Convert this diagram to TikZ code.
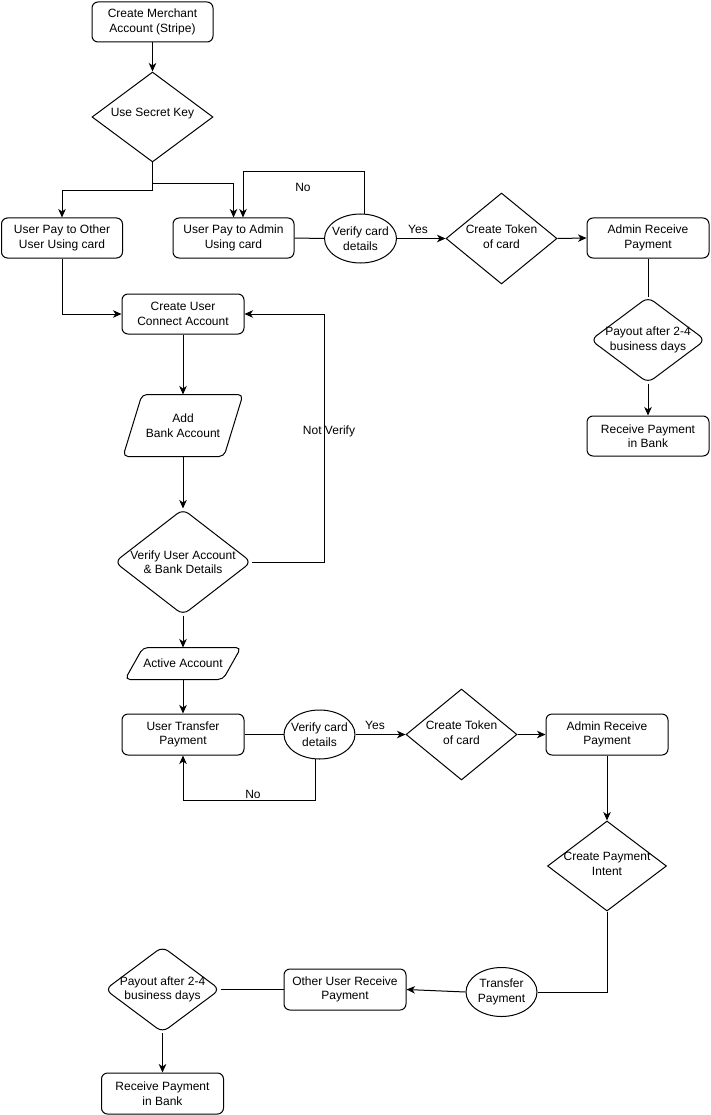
\documentclass[tikz,border=0pt]{standalone}
\usepackage{fontspec}
\setmainfont{Liberation Sans}
\usetikzlibrary{shapes.geometric, arrows.meta, calc}
\newcommand\dfont{\fontsize{12}{14.5}\selectfont}
\begin{document}
\begin{tikzpicture}[x=1pt, y=-1pt, line width=1pt,
  every node/.style={font=\dfont},
  box/.style={draw, rounded corners=6pt, minimum width=121pt, minimum height=40pt, inner sep=0pt, align=center},
  dia/.style={draw, diamond, inner sep=0pt},
  rdia/.style={draw, diamond, inner sep=0pt, rounded corners=7pt},
  ell/.style={draw, ellipse, inner sep=0pt},
  par/.style={inner sep=0pt, align=center},
  txt/.style={align=center, inner sep=0pt},
  lbl/.style={inner sep=0pt},
  arr/.style={-{Stealth[length=8.5pt,width=7.5pt,inset=2.5pt]}}
]
\useasboundingbox (0,0) rectangle (710,1115);

% ---- nodes ----
\node[box] (merch) at (152.5,22) {Create Merchant\\Account (Stripe)};
\node[dia, minimum width=121pt, minimum height=90pt, label={[txt,yshift=3pt]center:Use Secret Key}] (key) at (152.5,117) {};
\node[box] (other) at (62,238) {User Pay to Other\\User Using card};
\node[box] (admin) at (233.5,238) {User Pay to Admin\\Using card};
\node[ell, minimum width=72pt, minimum height=49pt, label={[txt]center:{Verify card\\details}}] (ver1) at (360.5,238.5) {};
\node[dia, minimum width=111pt, minimum height=91pt, label={[txt,yshift=2pt]center:{Create Token\\of card}}] (tok1) at (501.5,238.5) {};
\node[box, minimum width=122pt] (arec1) at (648,238) {Admin Receive\\Payment};
\node[rdia, minimum width=115pt, minimum height=86pt, label={[txt]center:{Payout after 2-4\\business days}}] (pay1) at (648,340) {};
\node[box, minimum width=122pt] (bank1) at (648,436) {Receive Payment\\in Bank};

\node[box, minimum width=122pt] (conn) at (183,314) {Create User\\Connect Account};
\node[par, minimum width=119pt, minimum height=61pt] (addb) at (183,425.5) {Add\\Bank Account};
\draw[rounded corners=5pt] ($(addb.north west)+(19,0)$) -- (addb.north east) -- ($(addb.south east)+(-19,0)$) -- (addb.south west) -- cycle;
\node[rdia, minimum width=137pt, minimum height=106pt, label={[txt]center:{Verify User Account\\\& Bank Details}}] (vua) at (183,562) {};
\node[par, minimum width=115pt, minimum height=31pt] (act) at (183,663.5) {Active Account};
\draw[rounded corners=5pt] ($(act.north west)+(18,0)$) -- (act.north east) -- ($(act.south east)+(-18,0)$) -- (act.south west) -- cycle;

\node[box, minimum width=122pt, minimum height=41pt] (utp) at (183,734.5) {User Transfer\\Payment};
\node[ell, minimum width=71pt, minimum height=49pt, label={[txt]center:{Verify card\\details}}] (ver2) at (319.5,734.5) {};
\node[dia, minimum width=111pt, minimum height=91pt, label={[txt,yshift=2pt]center:{Create Token\\of card}}] (tok2) at (461.5,734.5) {};
\node[box, minimum width=122pt, minimum height=41pt] (arec2) at (607,734.5) {Admin Receive\\Payment};
\node[dia, minimum width=119pt, minimum height=90pt, label={[txt,yshift=2pt]center:{Create Payment\\Intent}}] (intent) at (607,866) {};
\node[ell, minimum width=71pt, minimum height=49pt, label={[txt]center:{Transfer\\Payment}}] (trans) at (501.5,992) {};
\node[box, minimum width=122pt, minimum height=41pt] (ourp) at (345,989.5) {Other User Receive\\Payment};
\node[rdia, minimum width=115pt, minimum height=86pt, label={[txt]center:{Payout after 2-4\\business days}}] (pay2) at (162.5,989.5) {};
\node[box, minimum width=122pt, minimum height=41pt] (bank2) at (162.5,1093.5) {Receive Payment\\in Bank};

% ---- labels ----
\node[lbl] (no1) at (303,187) {No};
\node[lbl] (yes1) at (418,229) {Yes};
\node[lbl] (nv) at (329,431) {Not Verify};
\node[lbl] (yes2) at (375,725) {Yes};
\node[lbl] (no2) at (253,794) {No};

% ---- connectors ----
\draw[arr] (merch.south) -- (key.north);
\draw[arr] (key.south) -- ++(0,21) -| (admin.north);
\draw[arr] (key.south) -- ++(0,28) -| (other.north);
\draw (admin.east) -- (ver1.west);
\draw[arr] (ver1.80) -- (ver1.80 |- 0,172) -| ([xshift=9.5pt]admin.north);
\draw[arr] (ver1.east) -- (tok1.west);
\draw[arr] (tok1.east) -- (arec1.west);
\draw (arec1.south) -- (pay1.north);
\draw[arr] (pay1.south) -- (bank1.north);
\draw[arr] (other.south) |- (conn.west);
\draw[arr] (conn.south) -- (addb.north);
\draw[arr] (addb.south) -- (vua.north);
\draw[arr] (vua.east) -- ++(72,0) |- (conn.east);
\draw[arr] (vua.south) -- (act.north);
\draw[arr] (act.south) -- (utp.north);
\draw (utp.east) -- (ver2.west);
\draw[arr] (ver2.east) -- (tok2.west);
\draw[arr] (ver2.260) -- (ver2.260 |- 0,800) -| (utp.south);
\draw[arr] (tok2.east) -- (arec2.west);
\draw[arr] (arec2.south) -- (intent.north);
\draw (intent.south) |- (trans.east);
\draw[arr] (trans.west) -- (ourp.east);
\draw (ourp.west) -- (pay2.east);
\draw[arr] (pay2.south) -- (bank2.north);
\end{tikzpicture}
\end{document}
